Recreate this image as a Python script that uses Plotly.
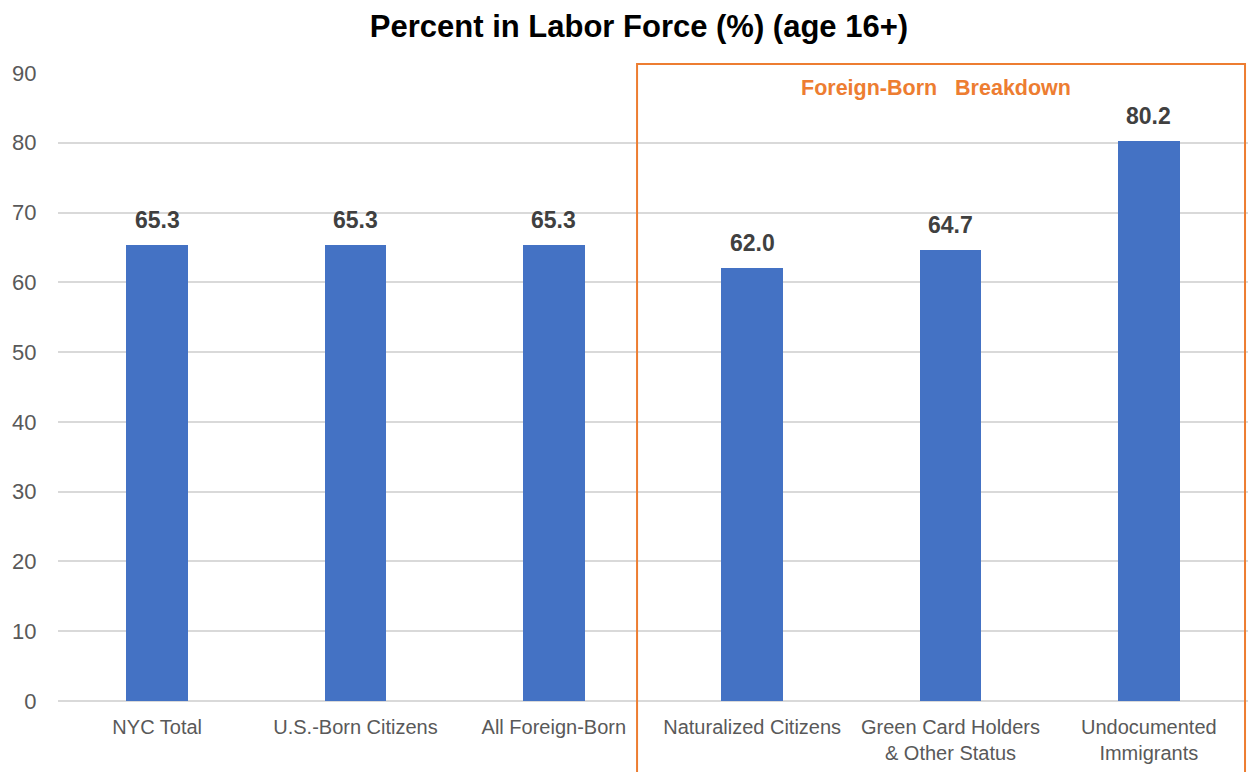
import plotly.graph_objects as go

categories = ["NYC Total", "U.S.-Born Citizens", "All Foreign-Born",
              "Naturalized Citizens", "Green Card Holders<br>& Other Status",
              "Undocumented<br>Immigrants"]
values = [65.3, 65.3, 65.3, 62.0, 64.7, 80.2]
y_ticks = [0, 10, 20, 30, 40, 50, 60, 70, 80, 90]

FONT = "Liberation Sans, Arial, Helvetica, sans-serif"
xs = list(range(len(categories)))

fig = go.Figure(go.Bar(
    x=xs,
    y=values,
    width=0.31,
    marker=dict(color="#4472C4", line=dict(width=0)),
    hoverinfo="skip",
))

for x, v in zip(xs, values):
    fig.add_annotation(x=x, y=v, text=f"<b>{v:.1f}</b>", showarrow=False,
                       xanchor="center", yanchor="middle", yshift=25,
                       font=dict(family=FONT, size=23, color="#404040"))

fig.update_layout(
    width=1248, height=772,
    margin=dict(l=58, r=0, t=73, b=71),
    paper_bgcolor="white", plot_bgcolor="white",
    showlegend=False,
    bargap=0,
    title=dict(text="<b>Percent in Labor Force (%) (age 16+)</b>",
               x=0.512, xanchor="center", y=0.966, yanchor="middle",
               font=dict(family=FONT, size=31, color="black")),
)

fig.update_xaxes(
    tickmode="array",
    tickvals=xs,
    ticktext=categories,
    range=[-0.5, 5.5],
    showgrid=False, zeroline=False, showline=False,
    ticks="outside", ticklen=8, tickcolor="rgba(0,0,0,0)",
    tickfont=dict(family=FONT, size=20, color="#595959"),
)
fig.update_yaxes(
    range=[0, 90],
    tickvals=y_ticks,
    showgrid=True, gridcolor="#d9d9d9", gridwidth=1.5,
    zeroline=True, zerolinecolor="#d9d9d9", zerolinewidth=1.5,
    showline=False,
    ticks="outside", ticklen=16, tickcolor="rgba(0,0,0,0)",
    tickfont=dict(family=FONT, size=22, color="#595959"),
)

# Orange box around the foreign-born breakdown
fig.add_shape(type="rect", xref="paper", yref="paper",
              x0=0.4866, x1=0.9975, y0=-0.13, y1=1.0143,
              line=dict(color="#ED7D31", width=2), fillcolor="rgba(0,0,0,0)")

fig.add_annotation(text="<b>Foreign-Born   Breakdown</b>",
                   xref="paper", yref="paper", x=0.7375, y=0.976,
                   showarrow=False, xanchor="center", yanchor="middle",
                   font=dict(family=FONT, size=21.5, color="#ED7D31"))

fig.write_html("out.html")
